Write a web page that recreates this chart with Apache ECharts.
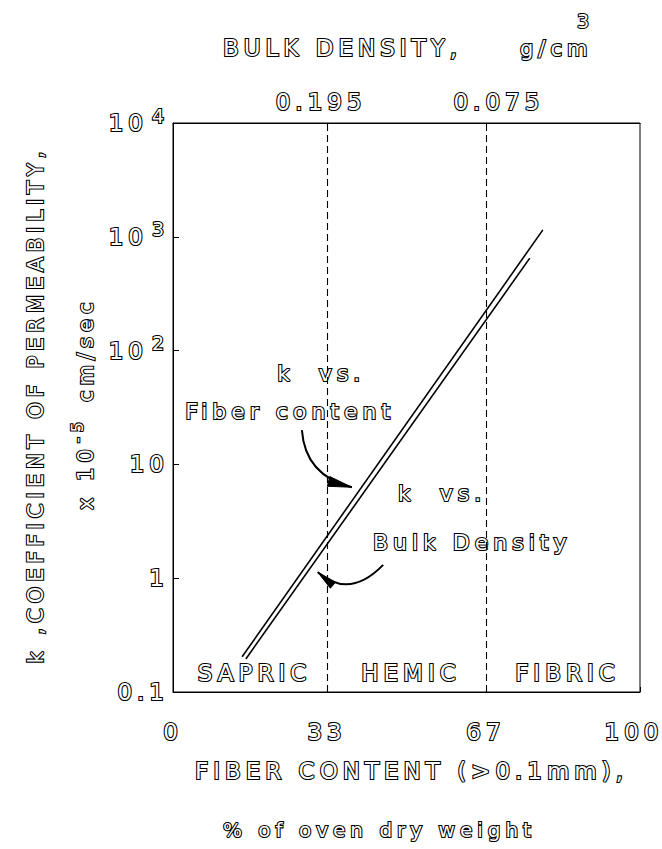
<!DOCTYPE html>
<html>
<head>
<meta charset="utf-8">
<script src="https://cdn.jsdelivr.net/npm/echarts@6/dist/echarts.min.js"></script>
<style>
  html, body { margin: 0; padding: 0; background: #fff; }
  #chart { width: 662px; height: 849px; }
  #chart svg text { letter-spacing: 5px; }
</style>
</head>
<body>
<div id="chart"></div>
<script>
// Coefficient of permeability k (x 10^-5 cm/sec) against fiber content of peat
const kVsFiberContent = [[14.8, 0.204], [79.2, 1150]];
const kVsBulkDensity = [[15.6, 0.195], [76.4, 650]];

const fiberTicks = [0, 33, 67, 100];
const bulkDensityPositions = [33, 67];
const bulkDensityLabels = ['0.195', '0.075'];
const permeabilityLabels = { 0.1: '0.1', 1: '1', 10: '10', 100: '{b|10}{s|2}', 1000: '{b|10}{s|3}', 10000: '{b|10}{s|4}' };

const peatClasses = ['SAPRIC', 'HEMIC', 'FIBRIC'];
const classBounds = [0, 33, 67, 100];

// callout texts and curved arrows, in (fiber %, k) coordinates
const callouts = [
  { text: 'k  vs.', at: [22.3, 63.5] },
  { text: 'Fiber content', at: [2.6, 29.4] },
  { text: 'k  vs.', at: [48.2, 5.6] },
  { text: 'Bulk Density', at: [42.8, 2.04] }
];
const arrows = [
  { from: [27.6, 20.0], via: [28.3, 7.98], to: [38.3, 6.3], len: 24, half: 5 },
  { from: [45.0, 1.31], via: [37.8, 0.65], to: [31.0, 1.13], len: 20, half: 4 }
];

const FONT = '"DejaVu Sans", sans-serif';
const INK = '#000';
const EDGE = 2.2;
const hollowText = { color: '#fff', textBorderColor: INK, textBorderWidth: EDGE, fontFamily: FONT };

const chart = echarts.init(document.getElementById('chart'), null, { renderer: 'svg', width: 662, height: 849 });

const option = {
  animation: false,
  backgroundColor: '#fff',
  grid: { left: 173, right: 22, top: 123, bottom: 157, show: true, borderColor: INK, borderWidth: 1, backgroundColor: 'transparent' },
  xAxis: [
    {
      type: 'value', min: 0, max: 100, position: 'bottom',
      axisLine: { lineStyle: { color: INK, width: 1 } },
      splitLine: { show: false },
      axisTick: { customValues: fiberTicks, inside: true, length: 5, lineStyle: { color: INK } },
      axisLabel: Object.assign({
        customValues: fiberTicks, margin: 28, fontSize: 23,
        formatter: v => (v === 100 ? '{e|100}' : String(v)),
        rich: { e: Object.assign({ fontSize: 23, padding: [0, 12, 0, 0] }, hollowText) }
      }, hollowText)
    },
    {
      type: 'value', min: 0, max: 100, position: 'top',
      axisLine: { lineStyle: { color: INK, width: 1 } },
      splitLine: { show: false },
      axisTick: { customValues: bulkDensityPositions, inside: true, length: 5, lineStyle: { color: INK } },
      axisLabel: Object.assign({
        customValues: bulkDensityPositions, margin: 10, fontSize: 23,
        formatter: v => (v < 50 ? '{l|' : '{r|') + bulkDensityLabels[bulkDensityPositions.indexOf(v)] + '}',
        rich: {
          l: Object.assign({ fontSize: 23, padding: [0, 12, 0, 0] }, hollowText),
          r: Object.assign({ fontSize: 23, padding: [0, 0, 0, 26] }, hollowText)
        }
      }, hollowText)
    }
  ],
  yAxis: {
    type: 'log', logBase: 10, min: 0.1, max: 10000,
    axisLine: { show: true, lineStyle: { color: INK, width: 1 } },
    splitLine: { show: false },
    minorTick: { show: false },
    axisTick: { inside: true, length: 6, lineStyle: { color: INK } },
    axisLabel: Object.assign({
      margin: 4, fontSize: 23,
      formatter: v => permeabilityLabels[+v.toPrecision(3)] || String(v),
      rich: {
        b: Object.assign({ fontSize: 23, lineHeight: 34 }, hollowText),
        s: Object.assign({ fontSize: 19, lineHeight: 18, verticalAlign: 'top', padding: [0, 0, 0, 9] }, hollowText)
      }
    }, hollowText)
  },
  series: [
    {
      type: 'line', name: 'k vs. Fiber content', data: kVsFiberContent,
      symbol: 'none', silent: true, z: 4,
      lineStyle: { color: INK, width: 1.6 },
      markLine: {
        silent: true, symbol: ['none', 'none'], label: { show: false },
        lineStyle: { color: INK, width: 1.1, type: [7, 4] },
        data: bulkDensityPositions.map(v => ({ xAxis: v }))
      },
      markArea: {
        silent: true,
        itemStyle: { color: 'transparent' },
        label: Object.assign({ show: true, position: 'insideBottom', distance: 8, fontSize: 23, padding: [0, 0, 0, 9] }, hollowText),
        data: peatClasses.map((c, i) => [{ name: c, xAxis: classBounds[i] }, { xAxis: classBounds[i + 1] }])
      }
    },
    {
      type: 'line', name: 'k vs. Bulk Density', data: kVsBulkDensity,
      symbol: 'none', silent: true, z: 4,
      lineStyle: { color: INK, width: 1.6 }
    }
  ]
};
chart.setOption(option);

function px(p) { return chart.convertToPixel({ xAxisIndex: 0, yAxisIndex: 0 }, p); }

function hollowStyle(text, size, extra) {
  return Object.assign({ text: text, font: size + 'px ' + FONT, fill: '#fff', stroke: INK, lineWidth: EDGE }, extra || {});
}

const graphics = [];

// titles
graphics.push({ type: 'text', x: 223, y: 48, style: hollowStyle('BULK DENSITY,', 23, { textVerticalAlign: 'middle' }) });
graphics.push({ type: 'text', x: 520, y: 49, style: hollowStyle('g/cm', 21, { textVerticalAlign: 'middle' }) });
graphics.push({ type: 'text', x: 577, y: 21, style: hollowStyle('3', 19, { textVerticalAlign: 'middle' }) });
graphics.push({ type: 'text', x: 195, y: 771, style: hollowStyle('FIBER CONTENT (>0.1mm),', 23, { textVerticalAlign: 'middle' }) });
graphics.push({ type: 'text', x: 223, y: 830, style: hollowStyle('% of oven dry weight', 20, { textVerticalAlign: 'middle' }) });

// vertical axis title, two lines reading bottom to top
graphics.push({
  type: 'text', x: 36, y: 405, rotation: Math.PI / 2,
  style: hollowStyle('k ,COEFFICIENT OF PERMEABILITY,', 21, { textAlign: 'center', textVerticalAlign: 'middle' })
});
graphics.push({
  type: 'group', x: 86, y: 402, rotation: Math.PI / 2,
  children: [
    { type: 'text', x: -108, y: 0, style: hollowStyle('x 10', 21, { textVerticalAlign: 'middle' }) },
    { type: 'text', x: -41, y: -9, style: hollowStyle('-5', 16, { textVerticalAlign: 'middle' }) },
    { type: 'text', x: 0, y: 0, style: hollowStyle('cm/sec', 21, { textVerticalAlign: 'middle' }) }
  ]
});

// callouts
callouts.forEach(c => {
  const p = px(c.at);
  graphics.push({ type: 'text', x: p[0], y: p[1], style: hollowStyle(c.text, 22, { textVerticalAlign: 'middle' }) });
});

// curved arrows with filled heads
arrows.forEach(a => {
  const p0 = px(a.from), c = px(a.via), p1 = px(a.to);
  graphics.push({
    type: 'bezierCurve', silent: true,
    shape: { x1: p0[0], y1: p0[1], cpx1: c[0], cpy1: c[1], x2: p1[0], y2: p1[1] },
    style: { stroke: INK, lineWidth: 2, fill: 'none' }
  });
  const dx = p1[0] - c[0], dy = p1[1] - c[1];
  const d = Math.hypot(dx, dy), ux = dx / d, uy = dy / d;
  const bx = p1[0] - ux * a.len, by = p1[1] - uy * a.len;
  graphics.push({
    type: 'polygon', silent: true,
    shape: { points: [[p1[0], p1[1]], [bx - uy * a.half, by + ux * a.half], [bx + uy * a.half, by - ux * a.half]] },
    style: { fill: INK, stroke: INK, lineWidth: 1 }
  });
});

chart.setOption({ graphic: graphics });
</script>
</body>
</html>
